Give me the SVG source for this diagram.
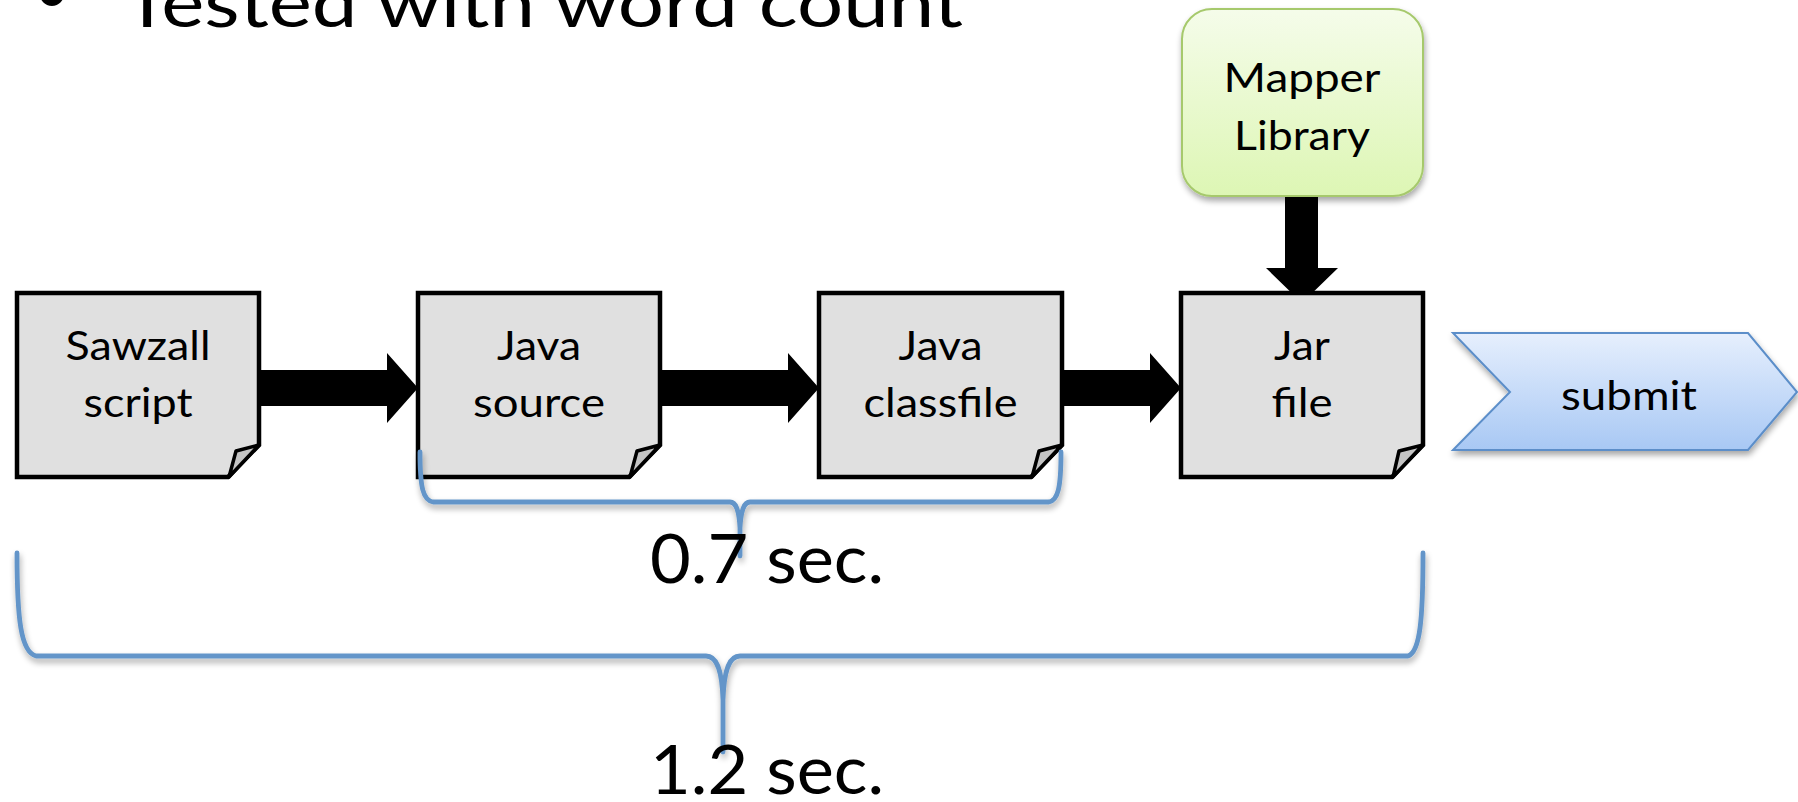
<svg xmlns="http://www.w3.org/2000/svg" width="1798" height="802" viewBox="0 0 1798 802">
  <style>
    .lbl { font-family: Lato, "Liberation Sans", sans-serif; font-size: 41px; fill: #000; }
    .big { font-family: Lato, "Liberation Sans", sans-serif; font-size: 67px; fill: #000; }
    .doc { fill: #e0e0e0; stroke: #000; stroke-width: 4.5; stroke-linejoin: miter; }
    .fold { fill: #c4c4c4; stroke: #000; stroke-width: 3.5; stroke-linejoin: round; }
    .flow { fill: #000; stroke: none; }
    .brace { fill: none; stroke: #6395c9; stroke-width: 4.8; stroke-linejoin: round; stroke-linecap: round; }
  </style>
  <defs>
    <linearGradient id="gGreen" x1="0" y1="0" x2="0" y2="1">
      <stop offset="0" stop-color="#f5fcea"/>
      <stop offset="1" stop-color="#ddf6b4"/>
    </linearGradient>
    <linearGradient id="gBlue" x1="0" y1="0" x2="0" y2="1">
      <stop offset="0" stop-color="#e6effd"/>
      <stop offset="1" stop-color="#a8c8f4"/>
    </linearGradient>
    <filter id="shadow" x="-10%" y="-10%" width="120%" height="130%">
      <feGaussianBlur in="SourceAlpha" stdDeviation="3"/>
      <feOffset dx="1" dy="4" result="b"/>
      <feComponentTransfer><feFuncA type="linear" slope="0.35"/></feComponentTransfer>
      <feMerge><feMergeNode/><feMergeNode in="SourceGraphic"/></feMerge>
    </filter>
  </defs>

  <rect width="1798" height="802" fill="#fff"/>

  <!-- bullet line at the top, partly cut off by the frame -->
  <g id="title">
    <text class="big" x="52" y="14" text-anchor="middle" font-size="64">•</text>
    <text class="big" x="123" y="27" textLength="840" lengthAdjust="spacingAndGlyphs">Tested with word count</text>
  </g>

  <!-- connectors -->
  <g id="connectors">
    <polygon class="flow" points="259,370 387,370 387,353 418,388 387,423 387,406 259,406"/>
    <polygon class="flow" points="660,370 788,370 788,353 819,388 788,423 788,406 660,406"/>
    <polygon class="flow" points="1062,370 1150,370 1150,353 1181,388 1150,423 1150,406 1062,406"/>
    <polygon class="flow" points="1285,195 1318,195 1318,268 1338,268 1302,303 1266,268 1285,268"/>
  </g>

  <g id="sawzall">
    <path class="doc" d="M17,293 H259 V445 L228,477 H17 Z"/>
    <path class="fold" d="M259,445 L236,451 L229,477 Z"/>
    <text class="lbl" x="65.5" y="360" textLength="145" lengthAdjust="spacingAndGlyphs">Sawzall</text>
    <text class="lbl" x="83.5" y="417" textLength="109" lengthAdjust="spacingAndGlyphs">script</text>
  </g>

  <g id="java-source">
    <path class="doc" d="M418,293 H660 V445 L629,477 H418 Z"/>
    <path class="fold" d="M660,445 L637,451 L630,477 Z"/>
    <text class="lbl" x="497" y="360" textLength="84" lengthAdjust="spacingAndGlyphs">Java</text>
    <text class="lbl" x="473" y="417" textLength="132" lengthAdjust="spacingAndGlyphs">source</text>
  </g>

  <g id="java-classfile">
    <path class="doc" d="M819,293 H1062 V445 L1031,477 H819 Z"/>
    <path class="fold" d="M1062,445 L1039,451 L1032,477 Z"/>
    <text class="lbl" x="898.5" y="360" textLength="84" lengthAdjust="spacingAndGlyphs">Java</text>
    <text class="lbl" x="863.5" y="417" textLength="154" lengthAdjust="spacingAndGlyphs">classfile</text>
  </g>

  <g id="jar-file">
    <path class="doc" d="M1181,293 H1423 V445 L1392,477 H1181 Z"/>
    <path class="fold" d="M1423,445 L1399,451 L1393,477 Z"/>
    <text class="lbl" x="1274" y="360" textLength="56" lengthAdjust="spacingAndGlyphs">Jar</text>
    <text class="lbl" x="1271.5" y="417" textLength="61" lengthAdjust="spacingAndGlyphs">file</text>
  </g>

  <g id="mapper-library">
    <rect x="1182" y="9" width="241" height="187" rx="30" ry="30" fill="url(#gGreen)" stroke="#a6c96c" stroke-width="2" filter="url(#shadow)"/>
    <text class="lbl" x="1223.5" y="92" textLength="157" lengthAdjust="spacingAndGlyphs">Mapper</text>
    <text class="lbl" x="1234" y="150" textLength="136" lengthAdjust="spacingAndGlyphs">Library</text>
  </g>

  <g id="submit">
    <polygon points="1453,333 1748,333 1797,392 1748,450 1453,450 1510,392" fill="url(#gBlue)" stroke="#5b8ec9" stroke-width="2" filter="url(#shadow)"/>
    <text class="lbl" x="1561" y="410" textLength="136" lengthAdjust="spacingAndGlyphs">submit</text>
  </g>

  <!-- timing braces -->
  <g id="brace-short" filter="url(#shadow)">
    <path class="brace" d="M420,452 C420,488 423,500 433,502 L730,502 C736,502 739,510 740,528 L740,556 L740,528 C741,510 744,502 750,502 L1049,502 C1058,500 1061,488 1061,452"/>
  </g>
  <text id="label-short" class="big" x="650" y="583" textLength="234" lengthAdjust="spacingAndGlyphs">0.7 sec.</text>

  <g id="brace-long" filter="url(#shadow)">
    <path class="brace" d="M17,553 C17,620 21,652 36,656 L706,656 C716,656 722,668 723,700 L723,752 L723,700 C724,668 730,656 740,656 L1408,656 C1420,652 1423,620 1423,553"/>
  </g>
  <text id="label-long" class="big" x="650" y="794" textLength="234" lengthAdjust="spacingAndGlyphs">1.2 sec.</text>
</svg>
